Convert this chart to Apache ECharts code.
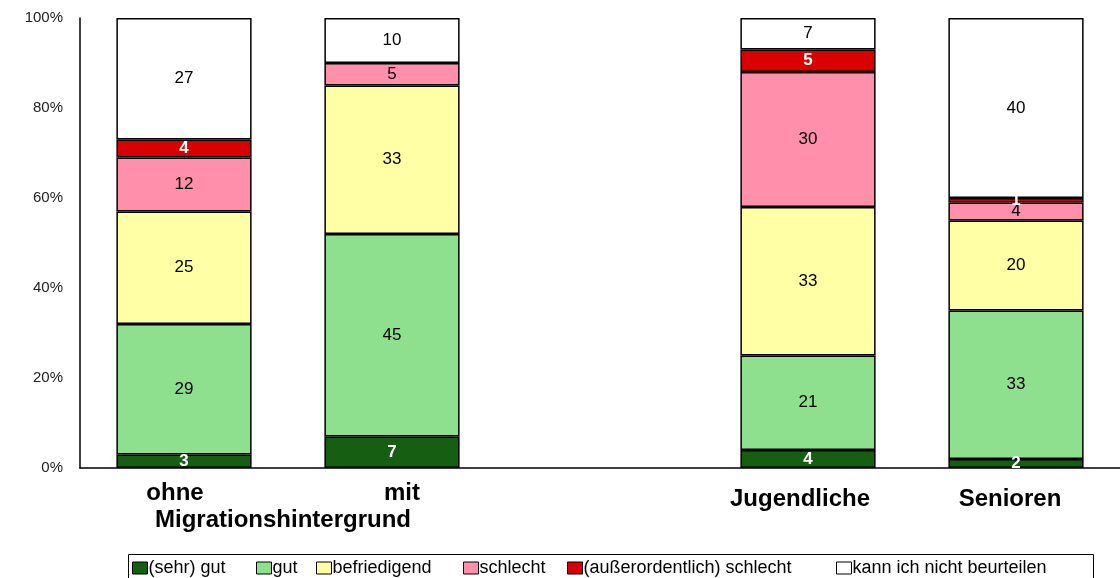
<!DOCTYPE html>
<html>
<head>
<meta charset="utf-8">
<script src="https://cdn.jsdelivr.net/npm/echarts@6/dist/echarts.min.js"></script>
<style>
  html, body { margin: 0; padding: 0; background: #fff; }
  #chart { width: 1120px; height: 578px; }
</style>
</head>
<body>
<div id="chart"></div>
<script>
// Kategorien (dritte Spalte ist eine Lücke)
const categories = ['ohne', 'mit', '', 'Jugendliche', 'Senioren'];
const seriesNames = ['(sehr) gut', 'gut', 'befriedigend', 'schlecht', '(außerordentlich) schlecht', 'kann ich nicht beurteilen'];

// Werte in Prozent
const sehrGut = [3, 7, null, 4, 2];
const gut = [29, 45, null, 21, 33];
const befriedigend = [25, 33, null, 33, 20];
const schlecht = [12, 5, null, 30, 4];
const ausserordentlichSchlecht = [4, 0, null, 5, 1];
const nichtBeurteilen = [27, 10, null, 7, 40];

const yTicks = [0, 20, 40, 60, 80, 100];

const values = [sehrGut, gut, befriedigend, schlecht, ausserordentlichSchlecht, nichtBeurteilen];
const colors = ['#165e12', '#8ee08e', '#ffffa6', '#ff8fab', '#d90000', '#ffffff'];
const whiteLabel = [true, false, false, false, true, false];
const legendLeft = [132, 256, 316, 463, 567, 836];

// leichte Verschiebung der Achsenbeschriftungen wie im Original
const labelPad = [[0, 18, 0, 0], [0, 0, 0, 20], [0, 0, 0, 0], [6, 16, 0, 0], [6, 12, 0, 0]];

const chart = echarts.init(document.getElementById('chart'), null, {renderer: 'canvas'});

const series = seriesNames.map((name, i) => ({
  name: name,
  type: 'bar',
  stack: 'total',
  barWidth: '65%',
  data: values[i].map(v => (v === 0 ? null : v)),
  itemStyle: {color: colors[i], borderColor: '#000', borderWidth: 1.5},
  label: {
    show: true,
    position: 'inside',
    fontFamily: 'Liberation Sans',
    fontSize: 17,
    fontWeight: whiteLabel[i] ? 'bold' : 'normal',
    color: whiteLabel[i] ? '#fff' : '#000'
  },
  emphasis: {disabled: true}
}));

const richLabels = {};
labelPad.forEach((p, i) => {
  richLabels['c' + i] = {
    fontFamily: 'Liberation Sans',
    fontSize: 24,
    fontWeight: 'bold',
    color: '#000',
    padding: p
  };
});

chart.setOption({
  animation: false,
  grid: {left: 80, right: 0, top: 18, bottom: 110},
  legend: seriesNames.map((name, i) => ({
    data: [name],
    left: legendLeft[i],
    top: 559,
    padding: 0,
    itemWidth: 15,
    itemHeight: 12,
    itemGap: 0,
    icon: 'rect',
    itemStyle: {borderColor: '#000', borderWidth: 1},
    textStyle: {fontFamily: 'Liberation Sans', fontSize: 18, color: '#000', padding: [0, 0, 0, -4]},
    selectedMode: false
  })),
  graphic: [
    {
      type: 'rect',
      shape: {x: 128.5, y: 554.5, width: 965, height: 40},
      style: {fill: 'none', stroke: '#000', lineWidth: 1},
      silent: true
    },
    {
      type: 'text',
      left: 155,
      top: 508,
      style: {text: 'Migrationshintergrund', font: 'bold 24px "Liberation Sans"', fill: '#000'}
    }
  ],
  xAxis: {
    type: 'category',
    data: categories,
    axisLine: {lineStyle: {color: '#000', width: 1.5}},
    axisTick: {show: false},
    axisLabel: {
      margin: 13,
      formatter: (value, index) => (value ? '{c' + index + '|' + value + '}' : ''),
      rich: richLabels
    }
  },
  yAxis: {
    type: 'value',
    min: yTicks[0],
    max: yTicks[yTicks.length - 1],
    interval: yTicks[1] - yTicks[0],
    axisLine: {show: true, lineStyle: {color: '#000', width: 1.5}},
    axisTick: {show: false},
    splitLine: {show: false},
    axisLabel: {
      margin: 17,
      formatter: '{value}%',
      fontFamily: 'Liberation Sans',
      fontSize: 15,
      color: '#222'
    }
  },
  series: series
});
</script>
</body>
</html>
